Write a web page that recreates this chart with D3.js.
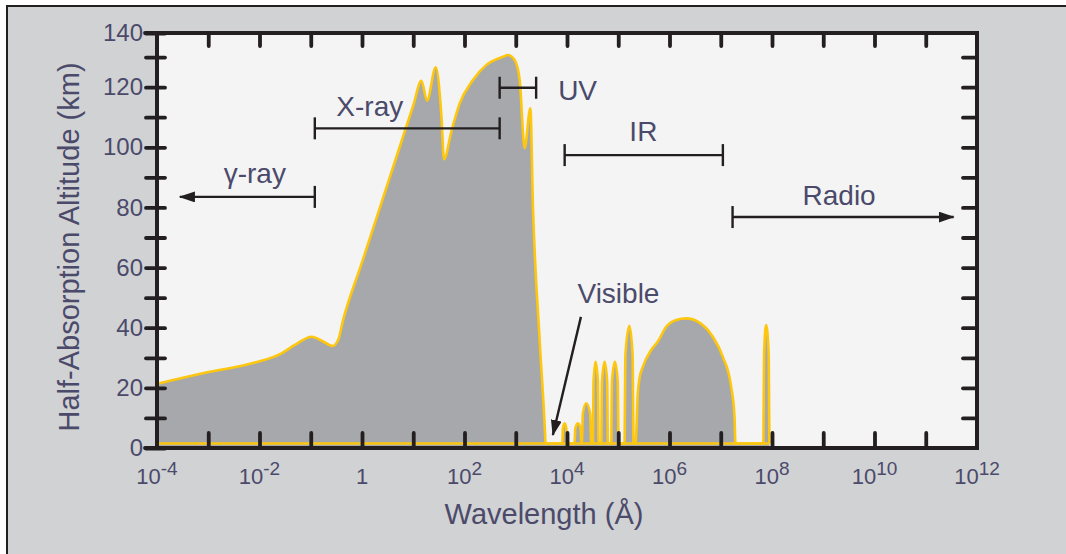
<!DOCTYPE html>
<html><head><meta charset="utf-8">
<script src="https://cdn.jsdelivr.net/npm/d3@7/dist/d3.min.js"></script>
<style>
html,body{margin:0;padding:0;background:#fff;}
svg{display:block;font-family:"Liberation Sans",Arial,Helvetica,sans-serif;}
</style></head>
<body>
<svg id="chart" width="1066" height="554"></svg>
<script>
// ---- data: log10 of wavelength (Å) and half-absorption altitude (km) ----
const logWavelength = [
  -4, -3.064, -2.09, -1.569, -1.31, -0.984, -0.758, -0.575, -0.466, -0.368,
  0.0, 0.5, 1.0, 1.16, 1.269, 1.439, 1.55, 1.6, 1.745, 1.906, 2.166, 2.427, 2.75, 2.848, 2.979,
  3.076, 3.174, 3.285, 3.336, 3.466, 3.573, 3.58,
  3.909, 3.92, 3.953, 3.987, 3.998,
  4.148, 4.162, 4.212, 4.264, 4.279,
  4.29, 4.31, 4.376, 4.452, 4.473,
  4.505, 4.518, 4.558, 4.603, 4.616,
  4.669, 4.683, 4.733, 4.784, 4.798,
  4.863, 4.878, 4.934, 4.99, 5.006,
  5.122, 5.14, 5.217, 5.28, 5.298,
  5.337, 5.382, 5.415, 5.48, 5.643, 5.772, 5.936, 6.131, 6.326, 6.585, 6.844,
  7.039, 7.203, 7.268, 7.287,
  7.832, 7.845, 7.885, 7.936, 7.949
];
const altitudeKm = [
  21.3, 25.0, 28.4, 31.5, 34.3, 37.0, 35.4, 33.9, 35.9, 42.6,
  61.7, 87.8, 113.9, 122.1, 115.5, 126.6, 110.2, 96.0, 105.4, 114.6, 122.4, 127.4, 130.1, 130.7, 129.0,
  122.4, 99.7, 113.0, 80.2, 35.9, 4.3, 1.5,
  1.5, 6.5, 8.2, 6.5, 1.5,
  1.5, 6.5, 8.2, 6.5, 1.5,
  1.5, 11.5, 14.9, 11.5, 1.5,
  1.5, 22, 28.7, 22, 1.5,
  1.5, 22, 28.7, 22, 1.5,
  1.5, 22, 28.7, 22, 1.5,
  1.5, 31, 40.6, 31, 1.5,
  1.5, 18.2, 23.2, 27.0, 32.6, 35.4, 40.3, 42.6, 43.1, 41.7, 37.0,
  30.4, 20.4, 10.4, 1.5,
  1.5, 31, 40.9, 31, 1.5
];
const baselineKm = 1.5;
const yTickValues = [0, 10, 20, 30, 40, 50, 60, 70, 80, 90, 100, 110, 120, 130, 140];
const yTickLabels = ["0", "", "20", "", "40", "", "60", "", "80", "", "100", "", "120", "", "140"];
const xDecadeExponents = [-4,-3,-2,-1,0,1,2,3,4,5,6,7,8,9,10,11,12];
const xLabelExponents = [-4,-2,0,2,4,6,8,10,12];

// band annotations (wavelength in Å, altitude in km)
const bandNames = ["γ-ray", "X-ray", "UV", "IR", "Radio"];
const bandStart = [0.12, 0.12, 485, 9000, 1.7e7];
const bandEnd   = [2.8e-4, 485, 2500, 1.1e7, 3.5e11];
const bandAltitude = [83.5, 106.3, 119.8, 97.4, 76.8];
const bandLabelWl = [0.0081, 1.42, 16100, 309000, 2.04e9];
const bandLabelAlt = [88.2, 110.4, 115.6, 102.1, 80.8];
const visibleLabel = {text: "Visible", wl: 101000, alt: 48.2};
const visibleArrowFrom = {wl: 18700, alt: 43.6};
const visibleArrowTo = {wl: 5300, alt: 4.3};

// ---- drawing ----
const textColor = "#4b4a6b";
const ink = "#231f20";
const curveColor = "#fdc70f";
const svg = d3.select("#chart");

svg.append("rect").attr("x", 7).attr("y", 6).attr("width", 1070).attr("height", 560)
  .attr("fill", "#d1d2d4").attr("stroke", ink).attr("stroke-width", 2);

const xScale = d3.scaleLog().domain([1e-4, 1e12]).range([157, 977]);
const yScale = d3.scaleLinear().domain([0, 138]).range([448, 33]).clamp(true);

svg.append("rect").attr("x", 157).attr("y", 33).attr("width", 820).attr("height", 415)
  .attr("fill", "#f4f4f4");

const pts = logWavelength.map((l, i) => ({w: Math.pow(10, l), a: altitudeKm[i]}));

svg.append("path").datum(pts)
  .attr("d", d3.area().x(d => xScale(d.w)).y0(yScale(0)).y1(d => yScale(d.a)).curve(d3.curveMonotoneX))
  .attr("fill", "#a7a8ab");
// baseline of the absorption curve
const wlExtent = d3.extent(pts, d => d.w);
svg.append("line").attr("x1", xScale(wlExtent[0])).attr("x2", xScale(wlExtent[1]))
  .attr("y1", yScale(baselineKm)).attr("y2", yScale(baselineKm))
  .attr("stroke", curveColor).attr("stroke-width", 2.6);
svg.append("path").datum(pts)
  .attr("d", d3.line().x(d => xScale(d.w)).y(d => yScale(d.a)).curve(d3.curveMonotoneX))
  .attr("fill", "none").attr("stroke", curveColor).attr("stroke-width", 2.6)
  .attr("stroke-linejoin", "round");

// annotations
const defs = svg.append("defs");
defs.append("marker").attr("id", "arr").attr("viewBox", "0 0 16 11")
  .attr("refX", 15).attr("refY", 5.5).attr("markerWidth", 16).attr("markerHeight", 11)
  .attr("markerUnits", "userSpaceOnUse").attr("orient", "auto")
  .append("path").attr("d", "M0,0 L16,5.5 L0,11 Z").attr("fill", ink);

const ann = svg.append("g").attr("stroke", ink).attr("stroke-width", 2.4);
bandNames.forEach((name, i) => {
  const x0 = xScale(bandStart[i]), x1 = xScale(bandEnd[i]), yy = yScale(bandAltitude[i]);
  const isArrow = (name === "γ-ray" || name === "Radio");
  const ln = ann.append("line").attr("x1", x0).attr("x2", x1).attr("y1", yy).attr("y2", yy);
  if (isArrow) ln.attr("marker-end", "url(#arr)");
  ann.append("line").attr("x1", x0).attr("x2", x0).attr("y1", yy - 11).attr("y2", yy + 11);
  if (!isArrow) ann.append("line").attr("x1", x1).attr("x2", x1).attr("y1", yy - 11).attr("y2", yy + 11);
  svg.append("text").attr("x", xScale(bandLabelWl[i])).attr("y", yScale(bandLabelAlt[i]))
    .attr("text-anchor", "middle").attr("font-size", 28).attr("fill", textColor).text(name);
});
ann.append("line").attr("x1", xScale(visibleArrowFrom.wl)).attr("y1", yScale(visibleArrowFrom.alt))
  .attr("x2", xScale(visibleArrowTo.wl)).attr("y2", yScale(visibleArrowTo.alt)).attr("marker-end", "url(#arr)");
svg.append("text").attr("x", xScale(visibleLabel.wl)).attr("y", yScale(visibleLabel.alt))
  .attr("text-anchor", "middle").attr("font-size", 28).attr("fill", textColor).text(visibleLabel.text);

// axes
const tickStyle = g => {
  g.select(".domain").remove();
  g.selectAll(".tick line").attr("stroke", ink).attr("stroke-width", 3.8).attr("stroke-linecap", "round");
};
const leftAx = svg.append("g").attr("transform", "translate(157,0)")
  .call(d3.axisLeft(yScale).tickValues(yTickValues).tickSize(11).tickPadding(3)
    .tickFormat((d, i) => yTickLabels[i]));
leftAx.call(tickStyle);
leftAx.selectAll(".tick line").attr("x1", 8);
leftAx.selectAll(".tick text").attr("font-size", 24).attr("fill", textColor)
  .attr("font-family", "Liberation Sans, Arial, sans-serif");

const rightAx = svg.append("g").attr("transform", "translate(977,0)")
  .call(d3.axisRight(yScale).tickValues(yTickValues.slice(1, -1)).tickSize(-14).tickFormat(""));
rightAx.call(tickStyle);

const decades = xDecadeExponents.map(e => Math.pow(10, e));
const topAx = svg.append("g").attr("transform", "translate(0,33)")
  .call(d3.axisTop(xScale).tickValues(decades.slice(1, -1)).tickSize(-13).tickFormat(""));
topAx.call(tickStyle);
const bottomAx = svg.append("g").attr("transform", "translate(0,448)")
  .call(d3.axisBottom(xScale).tickValues(decades.slice(1, -1)).tickSize(-15).tickFormat(""));
bottomAx.call(tickStyle);

svg.append("rect").attr("x", 157).attr("y", 33).attr("width", 820).attr("height", 415)
  .attr("fill", "none").attr("stroke", ink).attr("stroke-width", 4);
svg.append("g").call(g => {
  [0, 140].forEach(v => g.append("line").attr("x1", 145).attr("x2", 157)
    .attr("y1", yScale(v)).attr("y2", yScale(v))
    .attr("stroke", ink).attr("stroke-width", 3.8).attr("stroke-linecap", "round"));
});

// x tick labels with exponents
xLabelExponents.forEach(e => {
  const t = svg.append("text").attr("x", xScale(Math.pow(10, e))).attr("y", 484)
    .attr("text-anchor", "middle").attr("font-size", 22).attr("fill", textColor);
  if (e === 0) { t.text("1"); return; }
  t.append("tspan").text("10");
  t.append("tspan").attr("dy", -9).attr("font-size", 19).text(e < 0 ? "-" + Math.abs(e) : String(e));
});

// titles
svg.append("text").attr("x", 544).attr("y", 524).attr("text-anchor", "middle")
  .attr("font-size", 29).attr("fill", textColor).text("Wavelength (Å)");
svg.append("text").attr("transform", "translate(79,247) rotate(-90)").attr("text-anchor", "middle")
  .attr("font-size", 29).attr("fill", textColor).text("Half-Absorption Altitude (km)");
</script>
</body></html>
